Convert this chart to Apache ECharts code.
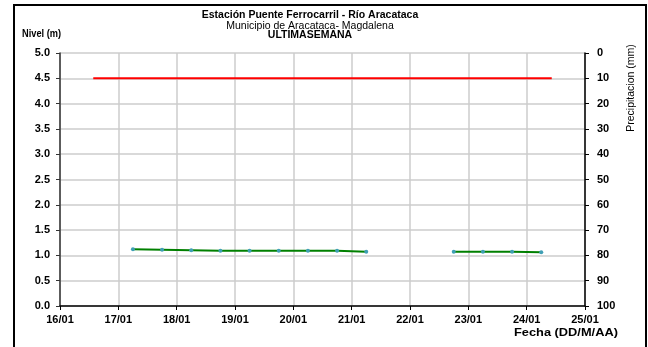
<!DOCTYPE html>
<html>
<head>
<meta charset="utf-8">
<script src="https://cdn.jsdelivr.net/npm/echarts@6/dist/echarts.min.js"></script>
<style>
  html, body { margin: 0; padding: 0; background: #fff; }
  #chart { width: 648px; height: 347px; }
</style>
</head>
<body>
<div id="chart"></div>
<script>
// x values are days counted from 16/01 00:00
const dayLabels = ["16/01", "17/01", "18/01", "19/01", "20/01", "21/01", "22/01", "23/01", "24/01", "25/01"];
const nivelTimes1 = [1.25, 1.75, 2.25, 2.75, 3.25, 3.75, 4.25, 4.75, 5.25];
const nivelValues1 = [1.12, 1.11, 1.10, 1.09, 1.09, 1.09, 1.09, 1.09, 1.07];
const nivelTimes2 = [6.75, 7.25, 7.75, 8.25];
const nivelValues2 = [1.07, 1.07, 1.07, 1.06];
const alertaTimes = [0.57, 8.43];
const alertaValues = [4.5, 4.5];

const pair = (xs, ys) => xs.map((x, i) => [x, ys[i]]);
const font = "Liberation Sans, Arial, sans-serif";

// plain text label placed by its middle
function label(text, x, y, weight, size, align, extra) {
  return Object.assign({
    type: "text", x: x, y: y,
    style: {
      text: text, fill: "#000",
      font: weight + " " + size + "px " + font,
      align: align, verticalAlign: "middle",
    },
  }, extra || {});
}

const chart = echarts.init(document.getElementById("chart"));
const option = {
  animation: false,
  textStyle: { fontFamily: font },
  graphic: [
    {
      type: "polyline",
      shape: { points: [[14, 347], [14, 5], [646, 5], [646, 347]] },
      style: { stroke: "#000", lineWidth: 2, fill: null },
    },
    label("Estación Puente Ferrocarril - Río Aracataca", 310, 15.5, "bold", 10.5, "center"),
    label("Municipio de Aracataca- Magdalena", 310, 26.5, "normal", 10.5, "center"),
    label("ULTIMASEMANA", 310, 35.5, "bold", 10.5, "center"),
    label("Nivel (m)", 22, 34.5, "bold", 10.5, "left", { scaleX: 0.88 }),
    label("Fecha (DD/M/AA)", 514, 333, "bold", 10.5, "left", { scaleX: 1.22 }),
    label("Precipitacion (mm)", 631, 88, "normal", 10.5, "center", { rotation: Math.PI / 2 }),
  ],
  grid: { left: 60, right: 63, top: 53, bottom: 41 },
  xAxis: {
    type: "value", min: 0, max: 9, interval: 1,
    axisLine: { lineStyle: { color: "#000", width: 1.5 } },
    axisTick: { show: true, length: 4, lineStyle: { color: "#000" } },
    axisLabel: {
      color: "#000", fontWeight: "bold", fontSize: 11, margin: 8,
      formatter: (v) => dayLabels[Math.round(v)],
    },
    splitLine: { show: true, lineStyle: { color: "#cccccc", width: 1.5 } },
  },
  yAxis: [
    {
      type: "value", min: 0, max: 5, interval: 0.5,
      axisLine: { show: true, lineStyle: { color: "#333", width: 1.5 } },
      axisTick: { show: true, length: 4, lineStyle: { color: "#333" } },
      axisLabel: {
        color: "#000", fontWeight: "bold", fontSize: 11, margin: 10,
        formatter: (v) => v.toFixed(1),
      },
      splitLine: { show: true, lineStyle: { color: "#cccccc", width: 1.5 } },
    },
    {
      type: "value", min: 0, max: 100, interval: 10, inverse: true, position: "right",
      axisLine: { show: true, lineStyle: { color: "#000", width: 1.5 } },
      axisTick: { show: true, length: 4, lineStyle: { color: "#000" } },
      axisLabel: { color: "#000", fontWeight: "bold", fontSize: 11, margin: 12 },
      splitLine: { show: false },
    },
  ],
  series: [
    {
      name: "Alerta",
      type: "line",
      data: pair(alertaTimes, alertaValues),
      symbol: "none",
      lineStyle: { color: "#ff0000", width: 2 },
    },
    {
      name: "Nivel",
      type: "line",
      data: pair(nivelTimes1, nivelValues1),
      symbol: "circle", symbolSize: 4,
      itemStyle: { color: "#3f9fb5" },
      lineStyle: { color: "#008000", width: 2 },
    },
    {
      name: "Nivel 2",
      type: "line",
      data: pair(nivelTimes2, nivelValues2),
      symbol: "circle", symbolSize: 4,
      itemStyle: { color: "#3f9fb5" },
      lineStyle: { color: "#008000", width: 2 },
    },
  ],
};
chart.setOption(option);
</script>
</body>
</html>
